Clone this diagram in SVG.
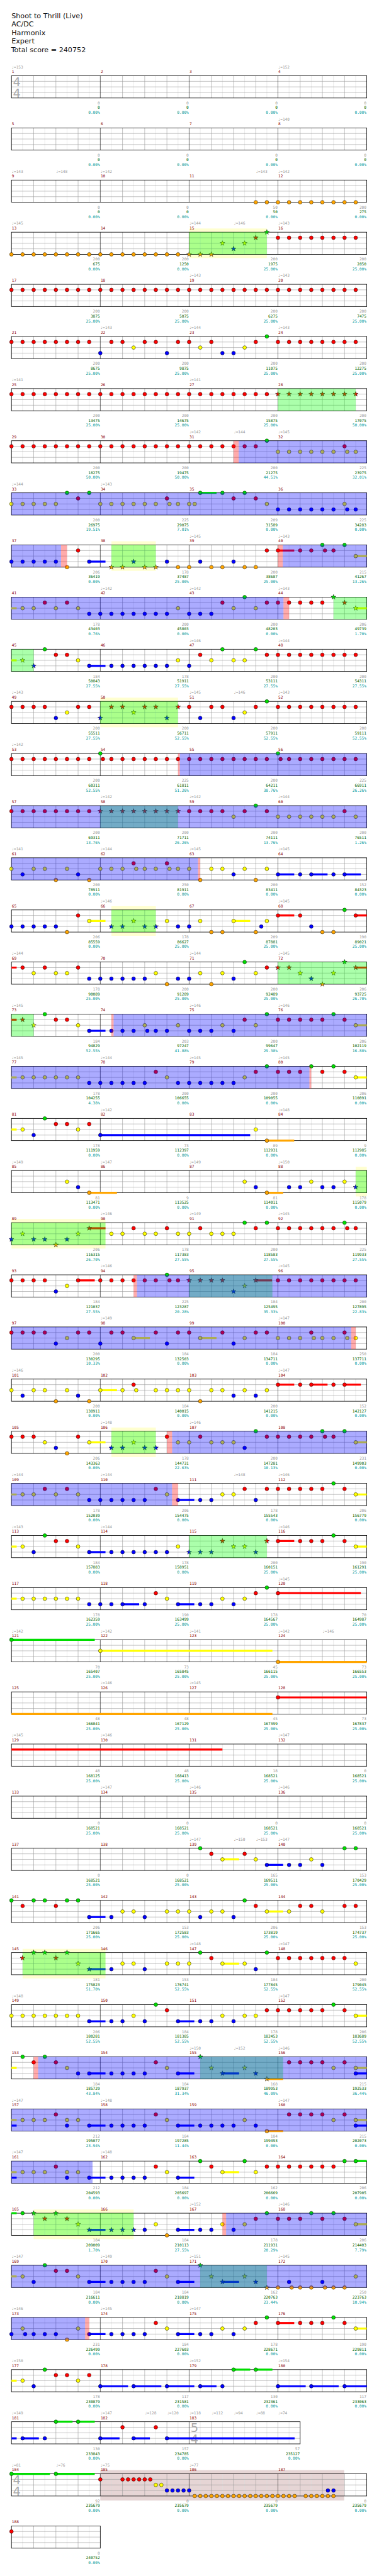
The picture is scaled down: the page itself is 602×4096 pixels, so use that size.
<svg xmlns="http://www.w3.org/2000/svg" width="602" height="4096" viewBox="0 0 602 4096">
<style>
.hb{stroke:#ddd;stroke-width:1;fill:none}
.bt{stroke:#999;stroke-width:1;fill:none}
.ms{stroke:#000;stroke-width:1;fill:none}
.bx{fill:none;stroke:#000;stroke-width:1.4}
text{font-family:"DejaVu Sans Mono","Liberation Mono",monospace;font-size:10.5px}
.ti{font-family:"DejaVu Sans","Liberation Sans",sans-serif;font-size:19px;fill:#111}
.mn{fill:#8b0000}
.tp{fill:#999}
.s1{fill:#999;text-anchor:end}
.s2{fill:#006400;text-anchor:end}
.s3{fill:#009a9a;text-anchor:end}
.ts{font-family:"DejaVu Sans","Liberation Sans",sans-serif;font-size:33px;fill:#aaa}
.lG,.lR,.lY,.lB,.lO{stroke-width:5.5;fill:none}
.lG{stroke:#00dd00}.lR{stroke:#f00}.lY{stroke:#ff0}.lB{stroke:#00f}.lO{stroke:#ffa500}
.og{fill:#0f0;fill-opacity:.33}
.ob{fill:#00f;fill-opacity:.33}
.op{fill:#f00;fill-opacity:.33}
.bk{fill:#ffffd0}
.br{fill:#e6d5d5}
</style>
<defs>
<circle id="c" r="5" stroke="#000" stroke-width=".8"/>
<polygon id="st" points="0,-7 1.65,-2.27 6.66,-2.16 2.66,0.87 4.11,5.66 0,2.8 -4.11,5.66 -2.66,0.87 -6.66,-2.16 -1.65,-2.27" stroke="#000" stroke-width=".8"/>
<use id="G" href="#c" fill="#00dd00"/>
<use id="R" href="#c" y="15" fill="#f00"/>
<use id="Y" href="#c" y="30" fill="#ff0"/>
<use id="B" href="#c" y="45" fill="#00f"/>
<use id="O" href="#c" y="60" fill="#ffa500"/>
<use id="sg" href="#st" fill="#00dd00"/>
<use id="sr" href="#st" y="15" fill="#f00"/>
<use id="sy" href="#st" y="30" fill="#ff0"/>
<use id="sb" href="#st" y="45" fill="#00f"/>
<use id="so" href="#st" y="60" fill="#ffa500"/>
<g id="grid">
<path class="hb" d="M30 0V60M90 0V60M150 0V60M210 0V60M270 0V60M330 0V60M390 0V60M450 0V60M510 0V60M570 0V60M630 0V60M690 0V60M750 0V60M810 0V60M870 0V60M930 0V60"/>
<path class="bt" d="M60 0V60M120 0V60M180 0V60M300 0V60M360 0V60M420 0V60M540 0V60M600 0V60M660 0V60M780 0V60M840 0V60M900 0V60M0 15H960M0 30H960M0 45H960"/>
<path class="ms" d="M240 0V60M480 0V60M720 0V60"/>
<rect class="bx" width="960" height="60"/>
</g>
<g id="grid3">
<path class="hb" d="M30 0V60M90 0V60M150 0V60M210 0V60M270 0V60M330 0V60M390 0V60M450 0V60M510 0V60M570 0V60M630 0V60M690 0V60M750 0V60"/>
<path class="bt" d="M60 0V60M120 0V60M180 0V60M300 0V60M360 0V60M420 0V60M540 0V60M600 0V60M660 0V60M720 0V60M0 15H780M0 30H780M0 45H780"/>
<path class="ms" d="M240 0V60M480 0V60"/>
<rect class="bx" width="780" height="60"/>
</g>
<g id="grid1">
<path class="hb" d="M30 0V60M90 0V60M150 0V60M210 0V60"/>
<path class="bt" d="M60 0V60M120 0V60M180 0V60M0 15H240M0 30H240M0 45H240"/>
<rect class="bx" width="240" height="60"/>
</g>
</defs>
<g transform="scale(0.58789)">
<g id="header">
<text class="ti" x="31" y="49">Shoot to Thrill (Live)</text>
<text class="ti" x="31" y="72">AC/DC</text>
<text class="ti" x="31" y="95">Harmonix</text>
<text class="ti" x="31" y="118">Expert</text>
<text class="ti" x="30" y="141">Total score = 240752</text>
</g>

<g id="row-1" transform="translate(31,205)">
<use href="#grid"/>
<text class="ts" x="4" y="28">4</text><text class="ts" x="4" y="58">4</text>
<text class="mn" y="-7"><tspan x="1">1</tspan><tspan x="241">2</tspan><tspan x="481">3</tspan><tspan x="721">4</tspan></text>
<text class="tp" y="-20"><tspan x="0">♩=153</tspan><tspan x="720">♩=152</tspan></text>
<text class="s1" y="77"><tspan x="239">0</tspan><tspan x="479">0</tspan><tspan x="719">0</tspan><tspan x="959">0</tspan></text>
<text class="s2" y="90"><tspan x="239">0</tspan><tspan x="479">0</tspan><tspan x="719">0</tspan><tspan x="959">0</tspan></text>
<text class="s3" y="103"><tspan x="239">0.00%</tspan><tspan x="479">0.00%</tspan><tspan x="719">0.00%</tspan><tspan x="959">0.00%</tspan></text>
</g>

<g id="row-2" transform="translate(31,346)">
<use href="#grid"/>
<text class="mn" y="-7"><tspan x="1">5</tspan><tspan x="241">6</tspan><tspan x="481">7</tspan><tspan x="721">8</tspan></text>
<text class="tp" y="-20"><tspan x="720">♩=140</tspan></text>
<text class="s1" y="77"><tspan x="239">0</tspan><tspan x="479">0</tspan><tspan x="719">0</tspan><tspan x="959">0</tspan></text>
<text class="s2" y="90"><tspan x="239">0</tspan><tspan x="479">0</tspan><tspan x="719">0</tspan><tspan x="959">0</tspan></text>
<text class="s3" y="103"><tspan x="239">0.00%</tspan><tspan x="479">0.00%</tspan><tspan x="719">0.00%</tspan><tspan x="959">0.00%</tspan></text>
</g>

<g id="row-3" transform="translate(31,487)">
<use href="#grid"/>
<text class="mn" y="-7"><tspan x="1">9</tspan><tspan x="241">10</tspan><tspan x="481">11</tspan><tspan x="721">12</tspan></text>
<text class="tp" y="-20"><tspan x="0">♩=143</tspan><tspan x="120">♩=148</tspan><tspan x="240">♩=142</tspan><tspan x="660">♩=143</tspan><tspan x="720">♩=142</tspan></text>
<text class="s1" y="77"><tspan x="239">0</tspan><tspan x="479">0</tspan><tspan x="719">50</tspan><tspan x="959">200</tspan></text>
<text class="s2" y="90"><tspan x="239">0</tspan><tspan x="479">0</tspan><tspan x="719">50</tspan><tspan x="959">275</tspan></text>
<text class="s3" y="103"><tspan x="239">0.00%</tspan><tspan x="479">0.00%</tspan><tspan x="719">0.00%</tspan><tspan x="959">0.00%</tspan></text>
<use href="#O" x="660"/><use href="#O" x="690"/><use href="#O" x="720"/><use href="#O" x="750"/><use href="#O" x="780"/><use href="#O" x="810"/><use href="#O" x="840"/><use href="#O" x="870"/><use href="#O" x="900"/><use href="#O" x="930"/>
</g>

<g id="row-4" transform="translate(31,628)">
<rect class="bk" x="480" y="-10" width="210" height="80"/>
<use href="#grid"/>
<text class="mn" y="-7"><tspan x="1">13</tspan><tspan x="241">14</tspan><tspan x="481">15</tspan><tspan x="721">16</tspan></text>
<text class="tp" y="-20"><tspan x="0">♩=145</tspan><tspan x="480">♩=144</tspan><tspan x="600">♩=146</tspan><tspan x="720">♩=143</tspan></text>
<text class="s1" y="77"><tspan x="239">200</tspan><tspan x="479">200</tspan><tspan x="719">200</tspan><tspan x="959">200</tspan></text>
<text class="s2" y="90"><tspan x="239">675</tspan><tspan x="479">1250</tspan><tspan x="719">1975</tspan><tspan x="959">2850</tspan></text>
<text class="s3" y="103"><tspan x="239">0.00%</tspan><tspan x="479">0.00%</tspan><tspan x="719">25.00%</tspan><tspan x="959">25.00%</tspan></text>
<use href="#O" x="0"/><use href="#O" x="30"/><use href="#O" x="60"/><use href="#O" x="90"/><use href="#O" x="120"/><use href="#O" x="150"/><use href="#O" x="180"/><use href="#O" x="210"/><use href="#O" x="240"/><use href="#O" x="270"/><use href="#O" x="300"/><use href="#O" x="330"/><use href="#O" x="360"/><use href="#O" x="390"/><use href="#O" x="420"/><use href="#O" x="450"/>
<use href="#so" x="480"/><use href="#so" x="510"/><use href="#so" x="540"/><use href="#sy" x="570"/><use href="#sb" x="600"/><use href="#sy" x="630"/><use href="#sr" x="660"/><use href="#sg" x="690"/>
<use href="#R" x="720"/><use href="#R" x="750"/><use href="#R" x="780"/><use href="#R" x="810"/><use href="#R" x="840"/><use href="#R" x="870"/><use href="#R" x="900"/><use href="#R" x="930"/>
<rect class="og" x="480" width="210" height="60"/>
</g>

<g id="row-5" transform="translate(31,769)">
<use href="#grid"/>
<text class="mn" y="-7"><tspan x="1">17</tspan><tspan x="241">18</tspan><tspan x="481">19</tspan><tspan x="721">20</tspan></text>
<text class="tp" y="-20"><tspan x="480">♩=143</tspan><tspan x="720">♩=143</tspan></text>
<text class="s1" y="77"><tspan x="239">200</tspan><tspan x="479">200</tspan><tspan x="719">200</tspan><tspan x="959">200</tspan></text>
<text class="s2" y="90"><tspan x="239">3875</tspan><tspan x="479">5075</tspan><tspan x="719">6275</tspan><tspan x="959">7475</tspan></text>
<text class="s3" y="103"><tspan x="239">25.00%</tspan><tspan x="479">25.00%</tspan><tspan x="719">25.00%</tspan><tspan x="959">25.00%</tspan></text>
<use href="#R" x="0"/><use href="#R" x="30"/><use href="#R" x="60"/><use href="#R" x="90"/><use href="#R" x="120"/><use href="#R" x="150"/><use href="#R" x="180"/><use href="#R" x="210"/><use href="#R" x="240"/><use href="#R" x="270"/><use href="#R" x="300"/><use href="#R" x="330"/><use href="#R" x="360"/><use href="#R" x="390"/><use href="#R" x="420"/><use href="#R" x="450"/><use href="#R" x="480"/><use href="#R" x="510"/><use href="#R" x="540"/><use href="#R" x="570"/><use href="#R" x="600"/><use href="#R" x="630"/><use href="#R" x="660"/><use href="#R" x="690"/><use href="#R" x="720"/><use href="#R" x="750"/><use href="#R" x="780"/><use href="#R" x="810"/><use href="#R" x="840"/><use href="#R" x="870"/><use href="#R" x="900"/><use href="#R" x="930"/>
</g>

<g id="row-6" transform="translate(31,910)">
<use href="#grid"/>
<text class="mn" y="-7"><tspan x="1">21</tspan><tspan x="241">22</tspan><tspan x="481">23</tspan><tspan x="721">24</tspan></text>
<text class="tp" y="-20"><tspan x="240">♩=143</tspan><tspan x="480">♩=144</tspan><tspan x="720">♩=143</tspan></text>
<text class="s1" y="77"><tspan x="239">200</tspan><tspan x="479">200</tspan><tspan x="719">200</tspan><tspan x="959">200</tspan></text>
<text class="s2" y="90"><tspan x="239">8675</tspan><tspan x="479">9875</tspan><tspan x="719">11075</tspan><tspan x="959">12275</tspan></text>
<text class="s3" y="103"><tspan x="239">25.00%</tspan><tspan x="479">25.00%</tspan><tspan x="719">25.00%</tspan><tspan x="959">25.00%</tspan></text>
<use href="#R" x="0"/><use href="#R" x="30"/><use href="#R" x="60"/><use href="#R" x="90"/><use href="#R" x="120"/><use href="#R" x="150"/><use href="#R" x="180"/><use href="#R" x="210"/><use href="#B" x="240"/><use href="#R" x="270"/><use href="#R" x="300"/><use href="#Y" x="330"/><use href="#R" x="360"/><use href="#R" x="390"/><use href="#B" x="420"/><use href="#R" x="450"/><use href="#R" x="480"/><use href="#Y" x="510"/><use href="#R" x="540"/><use href="#B" x="570"/><use href="#B" x="600"/><use href="#Y" x="630"/><use href="#R" x="660"/><use href="#G" x="690"/><use href="#R" x="720"/><use href="#R" x="750"/><use href="#R" x="780"/><use href="#R" x="810"/><use href="#R" x="840"/><use href="#R" x="870"/><use href="#R" x="900"/><use href="#R" x="930"/>
</g>

<g id="row-7" transform="translate(31,1051)">
<use href="#grid"/>
<text class="mn" y="-7"><tspan x="1">25</tspan><tspan x="241">26</tspan><tspan x="481">27</tspan><tspan x="721">28</tspan></text>
<text class="tp" y="-20"><tspan x="0">♩=141</tspan><tspan x="480">♩=141</tspan></text>
<text class="s1" y="77"><tspan x="239">200</tspan><tspan x="479">200</tspan><tspan x="719">200</tspan><tspan x="959">200</tspan></text>
<text class="s2" y="90"><tspan x="239">13475</tspan><tspan x="479">14675</tspan><tspan x="719">15875</tspan><tspan x="959">17075</tspan></text>
<text class="s3" y="103"><tspan x="239">25.00%</tspan><tspan x="479">25.00%</tspan><tspan x="719">25.00%</tspan><tspan x="959">50.00%</tspan></text>
<use href="#R" x="0"/><use href="#R" x="30"/><use href="#R" x="60"/><use href="#R" x="90"/><use href="#R" x="120"/><use href="#R" x="150"/><use href="#R" x="180"/><use href="#R" x="210"/><use href="#R" x="240"/><use href="#R" x="270"/><use href="#R" x="300"/><use href="#R" x="330"/><use href="#R" x="360"/><use href="#R" x="390"/><use href="#R" x="420"/><use href="#R" x="450"/><use href="#R" x="480"/><use href="#R" x="510"/><use href="#R" x="540"/><use href="#R" x="570"/><use href="#R" x="600"/><use href="#R" x="630"/><use href="#R" x="660"/><use href="#R" x="690"/>
<use href="#sr" x="720"/><use href="#sr" x="750"/><use href="#sr" x="780"/><use href="#sr" x="810"/><use href="#sr" x="840"/><use href="#sr" x="870"/><use href="#sr" x="900"/><use href="#sr" x="930"/>
<rect class="og" x="720" width="210" height="60"/>
</g>

<g id="row-8" transform="translate(31,1192)">
<use href="#grid"/>
<text class="mn" y="-7"><tspan x="1">29</tspan><tspan x="241">30</tspan><tspan x="481">31</tspan><tspan x="721">32</tspan></text>
<text class="tp" y="-20"><tspan x="480">♩=142</tspan><tspan x="600">♩=144</tspan><tspan x="720">♩=145</tspan></text>
<text class="s1" y="77"><tspan x="239">200</tspan><tspan x="479">200</tspan><tspan x="719">200</tspan><tspan x="959">225</tspan></text>
<text class="s2" y="90"><tspan x="239">18275</tspan><tspan x="479">19475</tspan><tspan x="719">21275</tspan><tspan x="959">23975</tspan></text>
<text class="s3" y="103"><tspan x="239">50.00%</tspan><tspan x="479">50.00%</tspan><tspan x="719">44.51%</tspan><tspan x="959">32.01%</tspan></text>
<use href="#R" x="0"/><use href="#R" x="30"/><use href="#R" x="60"/><use href="#R" x="90"/><use href="#R" x="120"/><use href="#R" x="150"/><use href="#R" x="180"/><use href="#R" x="210"/><use href="#R" x="240"/><use href="#R" x="270"/><use href="#R" x="300"/><use href="#R" x="330"/><use href="#R" x="360"/><use href="#R" x="390"/><use href="#R" x="420"/><use href="#R" x="450"/><use href="#R" x="480"/><use href="#R" x="510"/><use href="#R" x="540"/><use href="#R" x="570"/><use href="#R" x="600"/><use href="#R" x="630"/><use href="#R" x="660"/><use href="#G" x="690"/><use href="#Y" x="720"/><use href="#Y" x="750"/><use href="#Y" x="780"/><use href="#Y" x="810"/><use href="#Y" x="840"/><use href="#Y" x="870"/><use href="#R" x="900"/><use href="#Y" x="907"/><use href="#Y" x="930"/>
<rect class="op" x="600" width="14" height="60"/><rect class="ob" x="614" width="346" height="60"/>
</g>

<g id="row-9" transform="translate(31,1333)">
<use href="#grid"/>
<text class="mn" y="-7"><tspan x="1">33</tspan><tspan x="241">34</tspan><tspan x="481">35</tspan><tspan x="721">36</tspan></text>
<text class="tp" y="-20"><tspan x="0">♩=144</tspan><tspan x="240">♩=143</tspan></text>
<text class="s1" y="77"><tspan x="239">200</tspan><tspan x="479">225</tspan><tspan x="719">209</tspan><tspan x="959">225</tspan></text>
<text class="s2" y="90"><tspan x="239">26975</tspan><tspan x="479">29075</tspan><tspan x="719">31589</tspan><tspan x="959">34283</tspan></text>
<text class="s3" y="103"><tspan x="239">19.51%</tspan><tspan x="479">7.01%</tspan><tspan x="719">0.00%</tspan><tspan x="959">0.00%</tspan></text>
<path class="lG" d="M510 0H554"/>
<use href="#Y" x="0"/><use href="#Y" x="30"/><use href="#Y" x="60"/><use href="#Y" x="90"/><use href="#Y" x="120"/><use href="#G" x="150"/><use href="#R" x="180"/><use href="#G" x="210"/><use href="#Y" x="240"/><use href="#Y" x="270"/><use href="#Y" x="300"/><use href="#Y" x="330"/><use href="#Y" x="360"/><use href="#Y" x="390"/><use href="#R" x="420"/><use href="#Y" x="427"/><use href="#Y" x="450"/><use href="#Y" x="480"/><use href="#Y" x="495"/><use href="#G" x="510"/><use href="#G" x="570"/><use href="#R" x="600"/><use href="#G" x="630"/><use href="#R" x="660"/><use href="#Y" x="690"/><use href="#B" x="720"/><use href="#B" x="750"/><use href="#B" x="780"/><use href="#B" x="810"/><use href="#B" x="840"/><use href="#B" x="870"/><use href="#Y" x="900"/><use href="#B" x="907"/><use href="#B" x="930"/>
<rect class="ob" width="960" height="60"/>
</g>

<g id="row-10" transform="translate(31,1474)">
<rect class="bk" x="270" y="-10" width="120" height="80"/>
<use href="#grid"/>
<text class="mn" y="-7"><tspan x="1">37</tspan><tspan x="241">38</tspan><tspan x="481">39</tspan><tspan x="721">40</tspan></text>
<text class="tp" y="-20"><tspan x="480">♩=145</tspan><tspan x="720">♩=143</tspan></text>
<text class="s1" y="77"><tspan x="239">206</tspan><tspan x="479">178</tspan><tspan x="719">200</tspan><tspan x="959">215</tspan></text>
<text class="s2" y="90"><tspan x="239">36419</tspan><tspan x="479">37487</tspan><tspan x="719">38687</tspan><tspan x="959">41267</tspan></text>
<text class="s3" y="103"><tspan x="239">0.00%</tspan><tspan x="479">25.00%</tspan><tspan x="719">25.00%</tspan><tspan x="959">13.26%</tspan></text>
<path class="lB" d="M210 45H254"/><path class="lR" d="M720 15H764"/><path class="lY" d="M930 30H960"/>
<use href="#B" x="0"/><use href="#B" x="30"/><use href="#B" x="60"/><use href="#B" x="90"/><use href="#B" x="120"/><use href="#O" x="150"/><use href="#R" x="180"/><use href="#B" x="210"/><use href="#so" x="270"/><use href="#so" x="300"/><use href="#sb" x="330"/><use href="#so" x="360"/><use href="#so" x="390"/><use href="#B" x="420"/><use href="#O" x="450"/><use href="#O" x="480"/><use href="#B" x="510"/><use href="#O" x="540"/><use href="#O" x="570"/><use href="#B" x="600"/><use href="#O" x="630"/><use href="#O" x="660"/><use href="#R" x="690"/><use href="#R" x="720"/><use href="#R" x="780"/><use href="#R" x="810"/><use href="#G" x="840"/><use href="#R" x="847"/><use href="#R" x="870"/><use href="#G" x="900"/><use href="#Y" x="930"/>
<rect class="ob" width="134" height="60"/><rect class="op" x="134" width="16" height="60"/><rect class="og" x="270" width="120" height="60"/><rect class="op" x="720" width="13" height="60"/><rect class="ob" x="733" width="227" height="60"/>
</g>

<g id="row-11" transform="translate(31,1615)">
<use href="#grid"/>
<text class="mn" y="-7"><tspan x="1">41</tspan><tspan x="241">42</tspan><tspan x="481">43</tspan><tspan x="721">44</tspan></text>
<text class="tp" y="-20"><tspan x="240">♩=142</tspan><tspan x="480">♩=142</tspan><tspan x="720">♩=143</tspan></text>
<text class="s1" y="77"><tspan x="239">178</tspan><tspan x="479">200</tspan><tspan x="719">200</tspan><tspan x="959">206</tspan></text>
<text class="s2" y="90"><tspan x="239">43403</tspan><tspan x="479">45803</tspan><tspan x="719">48203</tspan><tspan x="959">49739</tspan></text>
<text class="s3" y="103"><tspan x="239">0.76%</tspan><tspan x="479">0.00%</tspan><tspan x="719">0.00%</tspan><tspan x="959">1.70%</tspan></text>
<path class="lY" d="M0 30H14M930 30H960"/>
<use href="#Y" x="30"/><use href="#Y" x="60"/><use href="#R" x="90"/><use href="#Y" x="120"/><use href="#R" x="150"/><use href="#Y" x="180"/><use href="#B" x="210"/><use href="#B" x="240"/><use href="#B" x="270"/><use href="#B" x="300"/><use href="#B" x="330"/><use href="#B" x="360"/><use href="#B" x="390"/><use href="#B" x="420"/><use href="#Y" x="450"/><use href="#B" x="480"/><use href="#B" x="510"/><use href="#B" x="540"/><use href="#R" x="570"/><use href="#Y" x="600"/><use href="#G" x="630"/><use href="#Y" x="660"/><use href="#R" x="690"/><use href="#R" x="720"/><use href="#R" x="750"/><use href="#R" x="780"/><use href="#R" x="810"/><use href="#R" x="840"/><use href="#sg" x="870"/><use href="#sr" x="900"/><use href="#sy" x="930"/>
<rect class="ob" width="735" height="60"/><rect class="op" x="735" width="15" height="60"/><rect class="og" x="870" width="90" height="60"/>
</g>

<g id="row-12" transform="translate(31,1756)">
<use href="#grid"/>
<text class="mn" y="-7"><tspan x="1">45</tspan><tspan x="241">46</tspan><tspan x="481">47</tspan><tspan x="721">48</tspan></text>
<text class="tp" y="-20"><tspan x="480">♩=146</tspan><tspan x="720">♩=144</tspan></text>
<text class="s1" y="77"><tspan x="239">184</tspan><tspan x="479">178</tspan><tspan x="719">200</tspan><tspan x="959">200</tspan></text>
<text class="s2" y="90"><tspan x="239">50843</tspan><tspan x="479">51911</tspan><tspan x="719">53111</tspan><tspan x="959">54311</tspan></text>
<text class="s3" y="103"><tspan x="239">27.55%</tspan><tspan x="479">27.55%</tspan><tspan x="719">27.55%</tspan><tspan x="959">27.55%</tspan></text>
<path class="lY" d="M0 30H14"/><path class="lB" d="M210 45H254"/>
<use href="#sy" x="30"/><use href="#sb" x="60"/><use href="#G" x="90"/><use href="#R" x="120"/><use href="#R" x="150"/><use href="#Y" x="180"/><use href="#B" x="210"/><use href="#B" x="270"/><use href="#B" x="300"/><use href="#B" x="330"/><use href="#B" x="360"/><use href="#B" x="390"/><use href="#B" x="420"/><use href="#Y" x="450"/><use href="#B" x="480"/><use href="#R" x="510"/><use href="#Y" x="540"/><use href="#G" x="570"/><use href="#Y" x="600"/><use href="#Y" x="630"/><use href="#G" x="660"/><use href="#R" x="690"/><use href="#R" x="720"/><use href="#R" x="750"/><use href="#R" x="780"/><use href="#R" x="810"/><use href="#R" x="840"/><use href="#R" x="870"/><use href="#R" x="900"/><use href="#R" x="930"/>
<rect class="og" width="60" height="60"/>
</g>

<g id="row-13" transform="translate(31,1897)">
<rect class="bk" x="240" y="-10" width="210" height="80"/>
<use href="#grid"/>
<text class="mn" y="-7"><tspan x="1">49</tspan><tspan x="241">50</tspan><tspan x="481">51</tspan><tspan x="721">52</tspan></text>
<text class="tp" y="-20"><tspan x="0">♩=143</tspan><tspan x="480">♩=145</tspan><tspan x="600">♩=146</tspan><tspan x="720">♩=143</tspan></text>
<text class="s1" y="77"><tspan x="239">200</tspan><tspan x="479">200</tspan><tspan x="719">200</tspan><tspan x="959">200</tspan></text>
<text class="s2" y="90"><tspan x="239">55511</tspan><tspan x="479">56711</tspan><tspan x="719">57911</tspan><tspan x="959">59111</tspan></text>
<text class="s3" y="103"><tspan x="239">27.55%</tspan><tspan x="479">52.55%</tspan><tspan x="719">52.55%</tspan><tspan x="959">52.55%</tspan></text>
<use href="#R" x="0"/><use href="#R" x="30"/><use href="#R" x="60"/><use href="#R" x="90"/><use href="#B" x="120"/><use href="#Y" x="150"/><use href="#R" x="180"/><use href="#R" x="210"/><use href="#sb" x="240"/><use href="#sr" x="270"/><use href="#sr" x="300"/><use href="#sy" x="330"/><use href="#sr" x="360"/><use href="#sr" x="390"/><use href="#sb" x="420"/><use href="#sr" x="450"/><use href="#R" x="480"/><use href="#B" x="510"/><use href="#R" x="540"/><use href="#R" x="570"/><use href="#B" x="600"/><use href="#Y" x="630"/><use href="#R" x="660"/><use href="#G" x="690"/><use href="#R" x="720"/><use href="#R" x="750"/><use href="#R" x="780"/><use href="#R" x="810"/><use href="#R" x="840"/><use href="#R" x="870"/><use href="#R" x="900"/><use href="#R" x="930"/>
<rect class="og" x="240" width="210" height="60"/>
</g>

<g id="row-14" transform="translate(31,2038)">
<use href="#grid"/>
<text class="mn" y="-7"><tspan x="1">53</tspan><tspan x="241">54</tspan><tspan x="481">55</tspan><tspan x="721">56</tspan></text>
<text class="tp" y="-20"><tspan x="0">♩=142</tspan></text>
<text class="s1" y="77"><tspan x="239">200</tspan><tspan x="479">225</tspan><tspan x="719">200</tspan><tspan x="959">225</tspan></text>
<text class="s2" y="90"><tspan x="239">60311</tspan><tspan x="479">61811</tspan><tspan x="719">64211</tspan><tspan x="959">66911</tspan></text>
<text class="s3" y="103"><tspan x="239">52.55%</tspan><tspan x="479">51.26%</tspan><tspan x="719">38.76%</tspan><tspan x="959">26.26%</tspan></text>
<use href="#R" x="0"/><use href="#R" x="30"/><use href="#R" x="60"/><use href="#R" x="90"/><use href="#R" x="120"/><use href="#R" x="150"/><use href="#R" x="180"/><use href="#R" x="210"/><use href="#G" x="240"/><use href="#R" x="247"/><use href="#R" x="270"/><use href="#R" x="300"/><use href="#R" x="330"/><use href="#R" x="360"/><use href="#R" x="390"/><use href="#R" x="420"/><use href="#R" x="450"/><use href="#R" x="480"/><use href="#R" x="510"/><use href="#R" x="540"/><use href="#R" x="570"/><use href="#R" x="600"/><use href="#R" x="630"/><use href="#R" x="660"/><use href="#R" x="690"/><use href="#G" x="720"/><use href="#R" x="727"/><use href="#R" x="750"/><use href="#R" x="780"/><use href="#R" x="810"/><use href="#R" x="840"/><use href="#R" x="870"/><use href="#R" x="900"/><use href="#R" x="930"/>
<rect class="op" x="450" width="5" height="60"/><rect class="ob" x="455" width="505" height="60"/>
</g>

<g id="row-15" transform="translate(31,2179)">
<use href="#grid"/>
<text class="mn" y="-7"><tspan x="1">57</tspan><tspan x="241">58</tspan><tspan x="481">59</tspan><tspan x="721">60</tspan></text>
<text class="tp" y="-20"><tspan x="240">♩=142</tspan><tspan x="480">♩=142</tspan><tspan x="720">♩=144</tspan></text>
<text class="s1" y="77"><tspan x="239">200</tspan><tspan x="479">200</tspan><tspan x="719">200</tspan><tspan x="959">200</tspan></text>
<text class="s2" y="90"><tspan x="239">69311</tspan><tspan x="479">71711</tspan><tspan x="719">74111</tspan><tspan x="959">76511</tspan></text>
<text class="s3" y="103"><tspan x="239">13.76%</tspan><tspan x="479">26.26%</tspan><tspan x="719">13.76%</tspan><tspan x="959">1.26%</tspan></text>
<use href="#R" x="0"/><use href="#R" x="30"/><use href="#R" x="60"/><use href="#R" x="90"/><use href="#R" x="120"/><use href="#R" x="150"/><use href="#R" x="180"/><use href="#R" x="210"/><use href="#sr" x="240"/><use href="#sr" x="270"/><use href="#sr" x="300"/><use href="#sr" x="330"/><use href="#sr" x="360"/><use href="#sr" x="390"/><use href="#sr" x="420"/><use href="#sr" x="450"/><use href="#R" x="480"/><use href="#R" x="510"/><use href="#R" x="540"/><use href="#R" x="570"/><use href="#Y" x="600"/><use href="#R" x="630"/><use href="#G" x="660"/><use href="#R" x="690"/><use href="#Y" x="720"/><use href="#Y" x="750"/><use href="#Y" x="780"/><use href="#Y" x="810"/><use href="#Y" x="840"/><use href="#Y" x="870"/><use href="#R" x="900"/><use href="#Y" x="930"/>
<rect class="og" x="240" width="210" height="60"/><rect class="ob" width="960" height="60"/>
</g>

<g id="row-16" transform="translate(31,2320)">
<use href="#grid"/>
<text class="mn" y="-7"><tspan x="1">61</tspan><tspan x="241">62</tspan><tspan x="481">63</tspan><tspan x="721">64</tspan></text>
<text class="tp" y="-20"><tspan x="0">♩=141</tspan><tspan x="240">♩=144</tspan><tspan x="480">♩=145</tspan><tspan x="720">♩=145</tspan></text>
<text class="s1" y="77"><tspan x="239">200</tspan><tspan x="479">250</tspan><tspan x="719">200</tspan><tspan x="959">152</tspan></text>
<text class="s2" y="90"><tspan x="239">78911</tspan><tspan x="479">81911</tspan><tspan x="719">83411</tspan><tspan x="959">84323</tspan></text>
<text class="s3" y="103"><tspan x="239">0.00%</tspan><tspan x="479">0.00%</tspan><tspan x="719">0.00%</tspan><tspan x="959">0.00%</tspan></text>
<path class="lB" d="M720 45H764M810 45H854M900 45H944"/>
<use href="#Y" x="0"/><use href="#B" x="30"/><use href="#Y" x="60"/><use href="#Y" x="90"/><use href="#O" x="120"/><use href="#Y" x="150"/><use href="#B" x="180"/><use href="#O" x="210"/><use href="#Y" x="240"/><use href="#Y" x="270"/><use href="#Y" x="300"/><use href="#R" x="330"/><use href="#Y" x="337"/><use href="#Y" x="360"/><use href="#Y" x="390"/><use href="#R" x="420"/><use href="#Y" x="427"/><use href="#Y" x="450"/><use href="#Y" x="480"/><use href="#O" x="510"/><use href="#Y" x="540"/><use href="#Y" x="570"/><use href="#B" x="600"/><use href="#Y" x="630"/><use href="#O" x="660"/><use href="#Y" x="690"/><use href="#B" x="720"/><use href="#B" x="780"/><use href="#B" x="810"/><use href="#B" x="870"/><use href="#B" x="900"/>
<rect class="ob" width="504" height="60"/><rect class="op" x="504" width="6" height="60"/>
</g>

<g id="row-17" transform="translate(31,2461)">
<rect class="bk" x="270" y="-10" width="120" height="80"/>
<use href="#grid"/>
<text class="mn" y="-7"><tspan x="1">65</tspan><tspan x="241">66</tspan><tspan x="481">67</tspan><tspan x="721">68</tspan></text>
<text class="tp" y="-20"><tspan x="240">♩=146</tspan><tspan x="720">♩=145</tspan></text>
<text class="s1" y="77"><tspan x="239">206</tspan><tspan x="479">178</tspan><tspan x="719">209</tspan><tspan x="959">190</tspan></text>
<text class="s2" y="90"><tspan x="239">85559</tspan><tspan x="479">86627</tspan><tspan x="719">87881</tspan><tspan x="959">89021</tspan></text>
<text class="s3" y="103"><tspan x="239">0.00%</tspan><tspan x="479">25.00%</tspan><tspan x="719">25.00%</tspan><tspan x="959">25.00%</tspan></text>
<path class="lY" d="M210 30H254M600 30H645"/><path class="lR" d="M720 15H764M930 15H960"/>
<use href="#B" x="0"/><use href="#B" x="30"/><use href="#B" x="60"/><use href="#B" x="90"/><use href="#B" x="120"/><use href="#O" x="150"/><use href="#R" x="180"/><use href="#Y" x="210"/><use href="#sb" x="270"/><use href="#sb" x="300"/><use href="#sy" x="330"/><use href="#sb" x="360"/><use href="#sb" x="390"/><use href="#Y" x="420"/><use href="#B" x="450"/><use href="#B" x="480"/><use href="#Y" x="510"/><use href="#O" x="540"/><use href="#O" x="570"/><use href="#Y" x="600"/><use href="#O" x="660"/><use href="#B" x="675"/><use href="#Y" x="690"/><use href="#R" x="720"/><use href="#R" x="780"/><use href="#B" x="810"/><use href="#O" x="840"/><use href="#O" x="870"/><use href="#G" x="900"/><use href="#R" x="930"/>
<rect class="og" x="270" width="120" height="60"/>
</g>

<g id="row-18" transform="translate(31,2602)">
<use href="#grid"/>
<text class="mn" y="-7"><tspan x="1">69</tspan><tspan x="241">70</tspan><tspan x="481">71</tspan><tspan x="721">72</tspan></text>
<text class="tp" y="-20"><tspan x="0">♩=144</tspan><tspan x="480">♩=144</tspan><tspan x="720">♩=145</tspan></text>
<text class="s1" y="77"><tspan x="239">178</tspan><tspan x="479">200</tspan><tspan x="719">200</tspan><tspan x="959">206</tspan></text>
<text class="s2" y="90"><tspan x="239">90089</tspan><tspan x="479">91289</tspan><tspan x="719">92489</tspan><tspan x="959">93725</tspan></text>
<text class="s3" y="103"><tspan x="239">25.00%</tspan><tspan x="479">25.00%</tspan><tspan x="719">25.00%</tspan><tspan x="959">26.70%</tspan></text>
<path class="lR" d="M0 15H14M930 15H960"/>
<use href="#R" x="30"/><use href="#Y" x="60"/><use href="#R" x="90"/><use href="#Y" x="120"/><use href="#Y" x="150"/><use href="#R" x="180"/><use href="#B" x="210"/><use href="#B" x="240"/><use href="#B" x="270"/><use href="#B" x="300"/><use href="#B" x="330"/><use href="#B" x="360"/><use href="#Y" x="390"/><use href="#O" x="420"/><use href="#B" x="450"/><use href="#B" x="480"/><use href="#Y" x="510"/><use href="#O" x="540"/><use href="#Y" x="570"/><use href="#B" x="600"/><use href="#G" x="630"/><use href="#Y" x="660"/><use href="#R" x="690"/><use href="#sr" x="720"/><use href="#sr" x="750"/><use href="#sy" x="780"/><use href="#sb" x="810"/><use href="#so" x="840"/><use href="#sy" x="870"/><use href="#sg" x="900"/><use href="#sr" x="930"/>
<rect class="og" x="720" width="240" height="60"/>
</g>

<g id="row-19" transform="translate(31,2743)">
<use href="#grid"/>
<text class="mn" y="-7"><tspan x="1">73</tspan><tspan x="241">74</tspan><tspan x="481">75</tspan><tspan x="721">76</tspan></text>
<text class="tp" y="-20"><tspan x="0">♩=145</tspan><tspan x="480">♩=146</tspan><tspan x="720">♩=146</tspan></text>
<text class="s1" y="77"><tspan x="239">184</tspan><tspan x="479">203</tspan><tspan x="719">200</tspan><tspan x="959">206</tspan></text>
<text class="s2" y="90"><tspan x="239">94829</tspan><tspan x="479">97247</tspan><tspan x="719">99647</tspan><tspan x="959">102119</tspan></text>
<text class="s3" y="103"><tspan x="239">52.55%</tspan><tspan x="479">41.88%</tspan><tspan x="719">29.38%</tspan><tspan x="959">16.88%</tspan></text>
<path class="lR" d="M0 15H14"/><path class="lB" d="M210 45H254"/><path class="lY" d="M930 30H960"/>
<use href="#sr" x="30"/><use href="#sy" x="60"/><use href="#G" x="90"/><use href="#R" x="120"/><use href="#R" x="150"/><use href="#Y" x="180"/><use href="#B" x="210"/><use href="#B" x="270"/><use href="#B" x="300"/><use href="#B" x="330"/><use href="#Y" x="360"/><use href="#B" x="367"/><use href="#B" x="390"/><use href="#B" x="420"/><use href="#Y" x="450"/><use href="#B" x="480"/><use href="#B" x="510"/><use href="#B" x="540"/><use href="#Y" x="570"/><use href="#B" x="600"/><use href="#R" x="630"/><use href="#Y" x="660"/><use href="#G" x="690"/><use href="#R" x="720"/><use href="#R" x="750"/><use href="#R" x="780"/><use href="#R" x="810"/><use href="#R" x="840"/><use href="#G" x="870"/><use href="#R" x="900"/><use href="#Y" x="930"/>
<rect class="og" width="60" height="60"/><rect class="op" x="270" width="6" height="60"/><rect class="ob" x="276" width="684" height="60"/>
</g>

<g id="row-20" transform="translate(31,2884)">
<use href="#grid"/>
<text class="mn" y="-7"><tspan x="1">77</tspan><tspan x="241">78</tspan><tspan x="481">79</tspan><tspan x="721">80</tspan></text>
<text class="tp" y="-20"><tspan x="0">♩=145</tspan><tspan x="240">♩=144</tspan><tspan x="480">♩=145</tspan><tspan x="720">♩=145</tspan></text>
<text class="s1" y="77"><tspan x="239">178</tspan><tspan x="479">200</tspan><tspan x="719">200</tspan><tspan x="959">206</tspan></text>
<text class="s2" y="90"><tspan x="239">104255</tspan><tspan x="479">106655</tspan><tspan x="719">109055</tspan><tspan x="959">110891</tspan></text>
<text class="s3" y="103"><tspan x="239">4.38%</tspan><tspan x="479">0.00%</tspan><tspan x="719">0.00%</tspan><tspan x="959">0.00%</tspan></text>
<path class="lY" d="M0 30H14M930 30H960"/>
<use href="#Y" x="30"/><use href="#Y" x="60"/><use href="#Y" x="90"/><use href="#Y" x="120"/><use href="#Y" x="150"/><use href="#Y" x="180"/><use href="#B" x="210"/><use href="#B" x="240"/><use href="#B" x="270"/><use href="#B" x="300"/><use href="#B" x="330"/><use href="#B" x="360"/><use href="#R" x="390"/><use href="#Y" x="420"/><use href="#B" x="450"/><use href="#B" x="480"/><use href="#B" x="510"/><use href="#B" x="540"/><use href="#B" x="570"/><use href="#B" x="600"/><use href="#Y" x="630"/><use href="#R" x="660"/><use href="#G" x="690"/><use href="#R" x="720"/><use href="#R" x="750"/><use href="#R" x="780"/><use href="#G" x="810"/><use href="#R" x="840"/><use href="#G" x="870"/><use href="#R" x="900"/><use href="#Y" x="930"/>
<rect class="ob" width="805" height="60"/><rect class="op" x="805" width="5" height="60"/>
</g>

<g id="row-21" transform="translate(31,3025)">
<use href="#grid"/>
<text class="mn" y="-7"><tspan x="1">81</tspan><tspan x="241">82</tspan><tspan x="481">83</tspan><tspan x="721">84</tspan></text>
<text class="tp" y="-20"><tspan x="240">♩=142</tspan><tspan x="720">♩=148</tspan></text>
<text class="s1" y="77"><tspan x="239">178</tspan><tspan x="479">73</tspan><tspan x="719">89</tspan><tspan x="959">9</tspan></text>
<text class="s2" y="90"><tspan x="239">111959</tspan><tspan x="479">112397</tspan><tspan x="719">112931</tspan><tspan x="959">112985</tspan></text>
<text class="s3" y="103"><tspan x="239">0.00%</tspan><tspan x="479">0.00%</tspan><tspan x="719">0.00%</tspan><tspan x="959">0.00%</tspan></text>
<path class="lY" d="M0 30H14"/><path class="lB" d="M240 45H645"/><path class="lO" d="M690 60H764"/>
<use href="#Y" x="30"/><use href="#B" x="60"/><use href="#G" x="90"/><use href="#R" x="120"/><use href="#R" x="150"/><use href="#Y" x="180"/><use href="#R" x="210"/><use href="#B" x="240"/><use href="#Y" x="660"/><use href="#O" x="690"/>
</g>

<g id="row-22" transform="translate(31,3166)">
<rect class="bk" x="930" y="-10" width="30" height="80"/>
<use href="#grid"/>
<text class="mn" y="-7"><tspan x="1">85</tspan><tspan x="241">86</tspan><tspan x="481">87</tspan><tspan x="721">88</tspan></text>
<text class="tp" y="-20"><tspan x="0">♩=149</tspan><tspan x="240">♩=147</tspan><tspan x="480">♩=149</tspan><tspan x="720">♩=150</tspan></text>
<text class="s1" y="77"><tspan x="239">81</tspan><tspan x="479">9</tspan><tspan x="719">81</tspan><tspan x="959">178</tspan></text>
<text class="s2" y="90"><tspan x="239">113471</tspan><tspan x="479">113525</tspan><tspan x="719">114011</tspan><tspan x="959">115079</tspan></text>
<text class="s3" y="103"><tspan x="239">0.00%</tspan><tspan x="479">0.00%</tspan><tspan x="719">0.00%</tspan><tspan x="959">0.00%</tspan></text>
<path class="lO" d="M210 60H285M690 60H734"/>
<use href="#Y" x="150"/><use href="#B" x="180"/><use href="#O" x="210"/><use href="#Y" x="630"/><use href="#B" x="660"/><use href="#O" x="690"/><use href="#B" x="750"/><use href="#B" x="780"/><use href="#Y" x="810"/><use href="#B" x="840"/><use href="#B" x="870"/><use href="#Y" x="900"/><use href="#sb" x="930"/>
<rect class="og" x="930" width="30" height="60"/>
</g>

<g id="row-23" transform="translate(31,3307)">
<rect class="bk" y="-10" width="254" height="80"/>
<use href="#grid"/>
<text class="mn" y="-7"><tspan x="1">89</tspan><tspan x="241">90</tspan><tspan x="481">91</tspan><tspan x="721">92</tspan></text>
<text class="tp" y="-20"><tspan x="240">♩=146</tspan><tspan x="480">♩=149</tspan><tspan x="720">♩=145</tspan></text>
<text class="s1" y="77"><tspan x="239">206</tspan><tspan x="479">178</tspan><tspan x="719">200</tspan><tspan x="959">225</tspan></text>
<text class="s2" y="90"><tspan x="239">116315</tspan><tspan x="479">117383</tspan><tspan x="719">118583</tspan><tspan x="959">119933</tspan></text>
<text class="s3" y="103"><tspan x="239">26.70%</tspan><tspan x="479">27.55%</tspan><tspan x="719">27.55%</tspan><tspan x="959">27.55%</tspan></text>
<path class="lR" d="M210 15H254"/>
<use href="#sb" x="0"/><use href="#sy" x="30"/><use href="#sb" x="60"/><use href="#sb" x="90"/><use href="#so" x="120"/><use href="#sb" x="150"/><use href="#sy" x="180"/><use href="#sr" x="210"/><use href="#Y" x="270"/><use href="#Y" x="300"/><use href="#R" x="330"/><use href="#Y" x="360"/><use href="#Y" x="390"/><use href="#R" x="420"/><use href="#Y" x="450"/><use href="#Y" x="480"/><use href="#R" x="510"/><use href="#Y" x="540"/><use href="#Y" x="570"/><use href="#Y" x="600"/><use href="#G" x="630"/><use href="#R" x="660"/><use href="#G" x="690"/><use href="#R" x="720"/><use href="#R" x="750"/><use href="#R" x="780"/><use href="#R" x="810"/><use href="#R" x="840"/><use href="#R" x="870"/><use href="#G" x="900"/><use href="#R" x="907"/><use href="#R" x="930"/>
<rect class="og" width="254" height="60"/>
</g>

<g id="row-24" transform="translate(31,3448)">
<use href="#grid"/>
<text class="mn" y="-7"><tspan x="1">93</tspan><tspan x="241">94</tspan><tspan x="481">95</tspan><tspan x="721">96</tspan></text>
<text class="tp" y="-20"><tspan x="240">♩=146</tspan><tspan x="720">♩=145</tspan></text>
<text class="s1" y="77"><tspan x="239">184</tspan><tspan x="479">225</tspan><tspan x="719">184</tspan><tspan x="959">200</tspan></text>
<text class="s2" y="90"><tspan x="239">121037</tspan><tspan x="479">123287</tspan><tspan x="719">125495</tspan><tspan x="959">127895</tspan></text>
<text class="s3" y="103"><tspan x="239">27.55%</tspan><tspan x="479">20.28%</tspan><tspan x="719">35.33%</tspan><tspan x="959">22.83%</tspan></text>
<path class="lR" d="M180 15H225M660 15H704"/>
<use href="#R" x="0"/><use href="#R" x="30"/><use href="#R" x="60"/><use href="#R" x="90"/><use href="#B" x="120"/><use href="#Y" x="150"/><use href="#R" x="180"/><use href="#R" x="240"/><use href="#R" x="270"/><use href="#R" x="300"/><use href="#R" x="330"/><use href="#R" x="360"/><use href="#R" x="390"/><use href="#G" x="420"/><use href="#R" x="427"/><use href="#R" x="450"/><use href="#sr" x="480"/><use href="#sr" x="510"/><use href="#sr" x="540"/><use href="#sr" x="570"/><use href="#sb" x="600"/><use href="#sy" x="630"/><use href="#sr" x="660"/><use href="#R" x="720"/><use href="#R" x="750"/><use href="#R" x="780"/><use href="#R" x="810"/><use href="#R" x="840"/><use href="#R" x="870"/><use href="#R" x="900"/><use href="#R" x="930"/>
<rect class="og" x="480" width="225" height="60"/><rect class="op" x="330" width="9" height="60"/><rect class="ob" x="339" width="621" height="60"/>
</g>

<g id="row-25" transform="translate(31,3589)">
<use href="#grid"/>
<text class="mn" y="-7"><tspan x="1">97</tspan><tspan x="241">98</tspan><tspan x="481">99</tspan><tspan x="721">100</tspan></text>
<text class="tp" y="-20"><tspan x="240">♩=149</tspan><tspan x="720">♩=147</tspan></text>
<text class="s1" y="77"><tspan x="239">200</tspan><tspan x="479">184</tspan><tspan x="719">184</tspan><tspan x="959">250</tspan></text>
<text class="s2" y="90"><tspan x="239">130295</tspan><tspan x="479">132503</tspan><tspan x="719">134711</tspan><tspan x="959">137711</tspan></text>
<text class="s3" y="103"><tspan x="239">10.33%</tspan><tspan x="479">0.00%</tspan><tspan x="719">0.00%</tspan><tspan x="959">0.00%</tspan></text>
<path class="lY" d="M330 30H374M510 30H554"/>
<use href="#R" x="0"/><use href="#R" x="30"/><use href="#R" x="60"/><use href="#R" x="90"/><use href="#B" x="120"/><use href="#Y" x="150"/><use href="#R" x="180"/><use href="#R" x="210"/><use href="#B" x="240"/><use href="#R" x="270"/><use href="#R" x="300"/><use href="#Y" x="330"/><use href="#R" x="390"/><use href="#B" x="420"/><use href="#R" x="450"/><use href="#R" x="480"/><use href="#Y" x="510"/><use href="#R" x="570"/><use href="#B" x="600"/><use href="#Y" x="630"/><use href="#R" x="660"/><use href="#R" x="690"/><use href="#Y" x="720"/><use href="#Y" x="750"/><use href="#Y" x="780"/><use href="#R" x="810"/><use href="#Y" x="817"/><use href="#Y" x="840"/><use href="#Y" x="870"/><use href="#R" x="900"/><use href="#Y" x="907"/><use href="#Y" x="930"/>
<rect class="ob" width="918" height="60"/><rect class="op" x="918" width="12" height="60"/>
</g>

<g id="row-26" transform="translate(31,3730)">
<use href="#grid"/>
<text class="mn" y="-7"><tspan x="1">101</tspan><tspan x="241">102</tspan><tspan x="481">103</tspan><tspan x="721">104</tspan></text>
<text class="tp" y="-20"><tspan x="0">♩=146</tspan><tspan x="720">♩=147</tspan></text>
<text class="s1" y="77"><tspan x="239">200</tspan><tspan x="479">184</tspan><tspan x="719">200</tspan><tspan x="959">152</tspan></text>
<text class="s2" y="90"><tspan x="239">138911</tspan><tspan x="479">140015</tspan><tspan x="719">141215</tspan><tspan x="959">142127</tspan></text>
<text class="s3" y="103"><tspan x="239">0.00%</tspan><tspan x="479">0.00%</tspan><tspan x="719">0.00%</tspan><tspan x="959">0.00%</tspan></text>
<path class="lY" d="M240 30H285"/><path class="lR" d="M720 15H764M810 15H854M900 15H944"/>
<use href="#Y" x="0"/><use href="#B" x="30"/><use href="#Y" x="60"/><use href="#Y" x="90"/><use href="#O" x="120"/><use href="#Y" x="150"/><use href="#B" x="180"/><use href="#O" x="210"/><use href="#Y" x="240"/><use href="#Y" x="300"/><use href="#R" x="330"/><use href="#Y" x="337"/><use href="#Y" x="390"/><use href="#Y" x="420"/><use href="#Y" x="450"/><use href="#Y" x="480"/><use href="#O" x="510"/><use href="#Y" x="540"/><use href="#Y" x="570"/><use href="#B" x="600"/><use href="#Y" x="630"/><use href="#B" x="660"/><use href="#Y" x="690"/><use href="#R" x="720"/><use href="#R" x="780"/><use href="#R" x="810"/><use href="#R" x="870"/><use href="#R" x="900"/>
</g>

<g id="row-27" transform="translate(31,3871)">
<rect class="bk" x="270" y="-10" width="120" height="80"/>
<use href="#grid"/>
<text class="mn" y="-7"><tspan x="1">105</tspan><tspan x="241">106</tspan><tspan x="481">107</tspan><tspan x="721">108</tspan></text>
<text class="tp" y="-20"><tspan x="240">♩=148</tspan><tspan x="480">♩=146</tspan></text>
<text class="s1" y="77"><tspan x="239">206</tspan><tspan x="479">178</tspan><tspan x="719">200</tspan><tspan x="959">231</tspan></text>
<text class="s2" y="90"><tspan x="239">143363</tspan><tspan x="479">144731</tspan><tspan x="719">147281</tspan><tspan x="959">149903</tspan></text>
<text class="s3" y="103"><tspan x="239">0.00%</tspan><tspan x="479">22.63%</tspan><tspan x="719">10.13%</tspan><tspan x="959">0.00%</tspan></text>
<path class="lY" d="M210 30H254M930 30H960"/>
<use href="#R" x="0"/><use href="#R" x="30"/><use href="#R" x="60"/><use href="#Y" x="90"/><use href="#B" x="120"/><use href="#O" x="150"/><use href="#R" x="180"/><use href="#Y" x="210"/><use href="#sb" x="270"/><use href="#sb" x="300"/><use href="#sy" x="330"/><use href="#sb" x="360"/><use href="#sb" x="390"/><use href="#R" x="420"/><use href="#Y" x="450"/><use href="#Y" x="480"/><use href="#R" x="510"/><use href="#Y" x="540"/><use href="#Y" x="570"/><use href="#Y" x="600"/><use href="#B" x="630"/><use href="#G" x="660"/><use href="#R" x="690"/><use href="#R" x="720"/><use href="#R" x="750"/><use href="#R" x="780"/><use href="#R" x="810"/><use href="#G" x="840"/><use href="#R" x="847"/><use href="#R" x="870"/><use href="#G" x="900"/><use href="#Y" x="930"/>
<rect class="og" x="270" width="120" height="60"/><rect class="op" x="420" width="14" height="60"/><rect class="ob" x="434" width="526" height="60"/>
</g>

<g id="row-28" transform="translate(31,4012)">
<use href="#grid"/>
<text class="mn" y="-7"><tspan x="1">109</tspan><tspan x="241">110</tspan><tspan x="481">111</tspan><tspan x="721">112</tspan></text>
<text class="tp" y="-20"><tspan x="0">♩=144</tspan><tspan x="240">♩=144</tspan><tspan x="600">♩=148</tspan><tspan x="720">♩=146</tspan></text>
<text class="s1" y="77"><tspan x="239">178</tspan><tspan x="479">206</tspan><tspan x="719">178</tspan><tspan x="959">206</tspan></text>
<text class="s2" y="90"><tspan x="239">152039</tspan><tspan x="479">154475</tspan><tspan x="719">155543</tspan><tspan x="959">156779</tspan></text>
<text class="s3" y="103"><tspan x="239">0.00%</tspan><tspan x="479">0.00%</tspan><tspan x="719">0.00%</tspan><tspan x="959">0.00%</tspan></text>
<path class="lY" d="M0 30H14M930 30H960"/><path class="lB" d="M450 45H494"/>
<use href="#Y" x="30"/><use href="#Y" x="60"/><use href="#R" x="90"/><use href="#Y" x="120"/><use href="#R" x="150"/><use href="#Y" x="180"/><use href="#B" x="210"/><use href="#B" x="240"/><use href="#B" x="270"/><use href="#B" x="300"/><use href="#B" x="330"/><use href="#B" x="360"/><use href="#R" x="390"/><use href="#Y" x="420"/><use href="#B" x="450"/><use href="#B" x="510"/><use href="#B" x="540"/><use href="#Y" x="570"/><use href="#Y" x="600"/><use href="#R" x="630"/><use href="#B" x="660"/><use href="#R" x="690"/><use href="#R" x="720"/><use href="#R" x="750"/><use href="#R" x="780"/><use href="#R" x="810"/><use href="#R" x="840"/><use href="#G" x="870"/><use href="#R" x="900"/><use href="#Y" x="930"/>
<rect class="ob" width="434" height="60"/><rect class="op" x="434" width="16" height="60"/>
</g>

<g id="row-29" transform="translate(31,4153)">
<use href="#grid"/>
<text class="mn" y="-7"><tspan x="1">113</tspan><tspan x="241">114</tspan><tspan x="481">115</tspan><tspan x="721">116</tspan></text>
<text class="tp" y="-20"><tspan x="0">♩=143</tspan><tspan x="240">♩=144</tspan><tspan x="720">♩=146</tspan></text>
<text class="s1" y="77"><tspan x="239">184</tspan><tspan x="479">178</tspan><tspan x="719">200</tspan><tspan x="959">190</tspan></text>
<text class="s2" y="90"><tspan x="239">157883</tspan><tspan x="479">158951</tspan><tspan x="719">160151</tspan><tspan x="959">161291</tspan></text>
<text class="s3" y="103"><tspan x="239">0.00%</tspan><tspan x="479">0.00%</tspan><tspan x="719">25.00%</tspan><tspan x="959">25.00%</tspan></text>
<path class="lY" d="M0 30H14M930 30H960"/><path class="lB" d="M210 45H254"/><path class="lR" d="M720 15H764"/>
<use href="#Y" x="30"/><use href="#B" x="60"/><use href="#G" x="90"/><use href="#R" x="120"/><use href="#R" x="150"/><use href="#Y" x="180"/><use href="#B" x="210"/><use href="#B" x="270"/><use href="#B" x="300"/><use href="#B" x="330"/><use href="#B" x="360"/><use href="#B" x="390"/><use href="#B" x="420"/><use href="#Y" x="450"/><use href="#sb" x="480"/><use href="#sb" x="510"/><use href="#sb" x="540"/><use href="#sr" x="570"/><use href="#sy" x="600"/><use href="#sy" x="630"/><use href="#sb" x="660"/><use href="#sr" x="690"/><use href="#R" x="720"/><use href="#R" x="780"/><use href="#R" x="810"/><use href="#R" x="840"/><use href="#G" x="870"/><use href="#R" x="900"/><use href="#Y" x="930"/>
<rect class="og" x="480" width="210" height="60"/>
</g>

<g id="row-30" transform="translate(31,4294)">
<use href="#grid"/>
<text class="mn" y="-7"><tspan x="1">117</tspan><tspan x="241">118</tspan><tspan x="481">119</tspan><tspan x="721">120</tspan></text>
<text class="tp" y="-20"><tspan x="720">♩=145</tspan></text>
<text class="s1" y="77"><tspan x="239">178</tspan><tspan x="479">190</tspan><tspan x="719">178</tspan><tspan x="959">70</tspan></text>
<text class="s2" y="90"><tspan x="239">162359</tspan><tspan x="479">163499</tspan><tspan x="719">164567</tspan><tspan x="959">164987</tspan></text>
<text class="s3" y="103"><tspan x="239">25.00%</tspan><tspan x="479">25.00%</tspan><tspan x="719">25.00%</tspan><tspan x="959">25.00%</tspan></text>
<path class="lY" d="M0 30H14"/><path class="lB" d="M300 45H345M450 45H494"/><path class="lR" d="M720 15H944"/>
<use href="#Y" x="30"/><use href="#Y" x="60"/><use href="#Y" x="90"/><use href="#Y" x="120"/><use href="#Y" x="150"/><use href="#Y" x="180"/><use href="#B" x="210"/><use href="#B" x="240"/><use href="#B" x="270"/><use href="#B" x="300"/><use href="#B" x="360"/><use href="#R" x="390"/><use href="#Y" x="420"/><use href="#B" x="450"/><use href="#B" x="510"/><use href="#B" x="540"/><use href="#Y" x="570"/><use href="#B" x="600"/><use href="#Y" x="630"/><use href="#R" x="660"/><use href="#G" x="690"/><use href="#R" x="720"/>
</g>

<g id="row-31" transform="translate(31,4435)">
<use href="#grid"/>
<text class="mn" y="-7"><tspan x="1">121</tspan><tspan x="241">122</tspan><tspan x="481">123</tspan><tspan x="721">124</tspan></text>
<text class="tp" y="-20"><tspan x="0">♩=142</tspan><tspan x="240">♩=142</tspan><tspan x="480">♩=141</tspan><tspan x="720">♩=142</tspan><tspan x="840">♩=146</tspan></text>
<text class="s1" y="77"><tspan x="239">70</tspan><tspan x="479">73</tspan><tspan x="719">45</tspan><tspan x="959">73</tspan></text>
<text class="s2" y="90"><tspan x="239">165407</tspan><tspan x="479">165845</tspan><tspan x="719">166115</tspan><tspan x="959">166553</tspan></text>
<text class="s3" y="103"><tspan x="239">25.00%</tspan><tspan x="479">25.00%</tspan><tspan x="719">25.00%</tspan><tspan x="959">25.00%</tspan></text>
<path class="lG" d="M0 0H225"/><path class="lY" d="M240 30H705"/><path class="lO" d="M720 60H960"/>
<use href="#G" x="0"/><use href="#Y" x="240"/><use href="#O" x="720"/>
</g>

<g id="row-32" transform="translate(31,4576)">
<use href="#grid"/>
<text class="mn" y="-7"><tspan x="1">125</tspan><tspan x="241">126</tspan><tspan x="481">127</tspan><tspan x="721">128</tspan></text>
<text class="tp" y="-20"><tspan x="240">♩=146</tspan><tspan x="480">♩=145</tspan></text>
<text class="s1" y="77"><tspan x="239">48</tspan><tspan x="479">48</tspan><tspan x="719">45</tspan><tspan x="959">73</tspan></text>
<text class="s2" y="90"><tspan x="239">166841</tspan><tspan x="479">167129</tspan><tspan x="719">167399</tspan><tspan x="959">167837</tspan></text>
<text class="s3" y="103"><tspan x="239">25.00%</tspan><tspan x="479">25.00%</tspan><tspan x="719">25.00%</tspan><tspan x="959">25.00%</tspan></text>
<path class="lO" d="M0 60H705"/><path class="lR" d="M720 15H960"/>
<use href="#R" x="720"/>
</g>

<g id="row-33" transform="translate(31,4717)">
<use href="#grid"/>
<text class="mn" y="-7"><tspan x="1">129</tspan><tspan x="241">130</tspan><tspan x="481">131</tspan><tspan x="721">132</tspan></text>
<text class="tp" y="-20"><tspan x="0">♩=145</tspan><tspan x="240">♩=146</tspan><tspan x="720">♩=147</tspan></text>
<text class="s1" y="77"><tspan x="239">48</tspan><tspan x="479">48</tspan><tspan x="719">18</tspan><tspan x="959">0</tspan></text>
<text class="s2" y="90"><tspan x="239">168125</tspan><tspan x="479">168413</tspan><tspan x="719">168521</tspan><tspan x="959">168521</tspan></text>
<text class="s3" y="103"><tspan x="239">25.00%</tspan><tspan x="479">25.00%</tspan><tspan x="719">25.00%</tspan><tspan x="959">25.00%</tspan></text>
<path class="lR" d="M0 15H570"/>
</g>

<g id="row-34" transform="translate(31,4858)">
<use href="#grid"/>
<text class="mn" y="-7"><tspan x="1">133</tspan><tspan x="241">134</tspan><tspan x="481">135</tspan><tspan x="721">136</tspan></text>
<text class="tp" y="-20"><tspan x="240">♩=147</tspan><tspan x="480">♩=146</tspan><tspan x="720">♩=146</tspan></text>
<text class="s1" y="77"><tspan x="239">0</tspan><tspan x="479">0</tspan><tspan x="719">0</tspan><tspan x="959">0</tspan></text>
<text class="s2" y="90"><tspan x="239">168521</tspan><tspan x="479">168521</tspan><tspan x="719">168521</tspan><tspan x="959">168521</tspan></text>
<text class="s3" y="103"><tspan x="239">25.00%</tspan><tspan x="479">25.00%</tspan><tspan x="719">25.00%</tspan><tspan x="959">25.00%</tspan></text>
</g>

<g id="row-35" transform="translate(31,4999)">
<use href="#grid"/>
<text class="mn" y="-7"><tspan x="1">137</tspan><tspan x="241">138</tspan><tspan x="481">139</tspan><tspan x="721">140</tspan></text>
<text class="tp" y="-20"><tspan x="480">♩=147</tspan><tspan x="600">♩=150</tspan><tspan x="660">♩=153</tspan><tspan x="720">♩=147</tspan></text>
<text class="s1" y="77"><tspan x="239">0</tspan><tspan x="479">0</tspan><tspan x="719">165</tspan><tspan x="959">153</tspan></text>
<text class="s2" y="90"><tspan x="239">168521</tspan><tspan x="479">168521</tspan><tspan x="719">169511</tspan><tspan x="959">170429</tspan></text>
<text class="s3" y="103"><tspan x="239">25.00%</tspan><tspan x="479">25.00%</tspan><tspan x="719">25.00%</tspan><tspan x="959">25.00%</tspan></text>
<path class="lY" d="M570 30H615"/><path class="lB" d="M690 45H734"/>
<use href="#G" x="510"/><use href="#R" x="540"/><use href="#Y" x="570"/><use href="#R" x="630"/><use href="#Y" x="660"/><use href="#B" x="690"/><use href="#B" x="750"/><use href="#B" x="780"/><use href="#Y" x="810"/><use href="#B" x="840"/><use href="#G" x="900"/><use href="#G" x="930"/>
</g>

<g id="row-36" transform="translate(31,5140)">
<use href="#grid"/>
<text class="mn" y="-7"><tspan x="1">141</tspan><tspan x="241">142</tspan><tspan x="481">143</tspan><tspan x="721">144</tspan></text>
<text class="s1" y="77"><tspan x="239">206</tspan><tspan x="479">153</tspan><tspan x="719">206</tspan><tspan x="959">153</tspan></text>
<text class="s2" y="90"><tspan x="239">171665</tspan><tspan x="479">172583</tspan><tspan x="719">173819</tspan><tspan x="959">174737</tspan></text>
<text class="s3" y="103"><tspan x="239">25.00%</tspan><tspan x="479">25.00%</tspan><tspan x="719">25.00%</tspan><tspan x="959">25.00%</tspan></text>
<path class="lB" d="M210 45H254"/><path class="lY" d="M690 30H734"/>
<use href="#G" x="0"/><use href="#R" x="30"/><use href="#G" x="60"/><use href="#G" x="90"/><use href="#R" x="120"/><use href="#G" x="150"/><use href="#G" x="180"/><use href="#B" x="210"/><use href="#B" x="270"/><use href="#Y" x="300"/><use href="#Y" x="330"/><use href="#B" x="360"/><use href="#Y" x="420"/><use href="#Y" x="450"/><use href="#Y" x="480"/><use href="#B" x="510"/><use href="#Y" x="540"/><use href="#Y" x="570"/><use href="#B" x="600"/><use href="#G" x="630"/><use href="#R" x="660"/><use href="#Y" x="690"/><use href="#Y" x="750"/><use href="#R" x="780"/><use href="#R" x="810"/><use href="#Y" x="840"/><use href="#R" x="900"/><use href="#R" x="930"/>
</g>

<g id="row-37" transform="translate(31,5281)">
<rect class="bk" x="30" y="-10" width="224" height="80"/>
<use href="#grid"/>
<text class="mn" y="-7"><tspan x="1">145</tspan><tspan x="241">146</tspan><tspan x="481">147</tspan><tspan x="721">148</tspan></text>
<text class="tp" y="-20"><tspan x="480">♩=148</tspan><tspan x="720">♩=147</tspan></text>
<text class="s1" y="77"><tspan x="239">181</tspan><tspan x="479">153</tspan><tspan x="719">184</tspan><tspan x="959">200</tspan></text>
<text class="s2" y="90"><tspan x="239">175823</tspan><tspan x="479">176741</tspan><tspan x="719">177845</tspan><tspan x="959">179045</tspan></text>
<text class="s3" y="103"><tspan x="239">51.70%</tspan><tspan x="479">52.55%</tspan><tspan x="719">52.55%</tspan><tspan x="959">52.55%</tspan></text>
<path class="lB" d="M210 45H254"/><path class="lY" d="M570 30H615"/>
<use href="#sr" x="30"/><use href="#sg" x="60"/><use href="#sg" x="90"/><use href="#sr" x="120"/><use href="#sg" x="150"/><use href="#sy" x="180"/><use href="#sb" x="210"/><use href="#B" x="270"/><use href="#Y" x="300"/><use href="#Y" x="330"/><use href="#B" x="360"/><use href="#Y" x="420"/><use href="#Y" x="450"/><use href="#Y" x="480"/><use href="#G" x="510"/><use href="#R" x="540"/><use href="#Y" x="570"/><use href="#Y" x="630"/><use href="#B" x="660"/><use href="#G" x="690"/><use href="#R" x="720"/><use href="#R" x="750"/><use href="#R" x="780"/><use href="#R" x="810"/><use href="#R" x="840"/><use href="#R" x="870"/><use href="#R" x="900"/><use href="#Y" x="930"/>
<rect class="og" x="30" width="224" height="60"/>
</g>

<g id="row-38" transform="translate(31,5422)">
<use href="#grid"/>
<text class="mn" y="-7"><tspan x="1">149</tspan><tspan x="241">150</tspan><tspan x="481">151</tspan><tspan x="721">152</tspan></text>
<text class="tp" y="-20"><tspan x="0">♩=148</tspan><tspan x="720">♩=147</tspan></text>
<text class="s1" y="77"><tspan x="239">206</tspan><tspan x="479">184</tspan><tspan x="719">178</tspan><tspan x="959">206</tspan></text>
<text class="s2" y="90"><tspan x="239">180281</tspan><tspan x="479">181385</tspan><tspan x="719">182453</tspan><tspan x="959">183689</tspan></text>
<text class="s3" y="103"><tspan x="239">52.55%</tspan><tspan x="479">52.55%</tspan><tspan x="719">52.55%</tspan><tspan x="959">52.55%</tspan></text>
<path class="lB" d="M210 45H254M450 45H494"/><path class="lY" d="M930 30H960"/>
<use href="#Y" x="0"/><use href="#Y" x="30"/><use href="#Y" x="60"/><use href="#Y" x="90"/><use href="#Y" x="120"/><use href="#Y" x="150"/><use href="#Y" x="180"/><use href="#B" x="210"/><use href="#B" x="270"/><use href="#B" x="300"/><use href="#Y" x="330"/><use href="#B" x="360"/><use href="#G" x="390"/><use href="#R" x="420"/><use href="#B" x="450"/><use href="#B" x="510"/><use href="#B" x="540"/><use href="#Y" x="570"/><use href="#B" x="600"/><use href="#Y" x="630"/><use href="#Y" x="660"/><use href="#R" x="690"/><use href="#R" x="720"/><use href="#R" x="750"/><use href="#R" x="780"/><use href="#R" x="810"/><use href="#R" x="840"/><use href="#G" x="870"/><use href="#R" x="900"/><use href="#Y" x="930"/>
</g>

<g id="row-39" transform="translate(31,5563)">
<use href="#grid"/>
<text class="mn" y="-7"><tspan x="1">153</tspan><tspan x="241">154</tspan><tspan x="481">155</tspan><tspan x="721">156</tspan></text>
<text class="tp" y="-20"><tspan x="480">♩=150</tspan><tspan x="600">♩=152</tspan><tspan x="720">♩=146</tspan></text>
<text class="s1" y="77"><tspan x="239">184</tspan><tspan x="479">184</tspan><tspan x="719">168</tspan><tspan x="959">215</tspan></text>
<text class="s2" y="90"><tspan x="239">185729</tspan><tspan x="479">187937</tspan><tspan x="719">189953</tspan><tspan x="959">192533</tspan></text>
<text class="s3" y="103"><tspan x="239">43.84%</tspan><tspan x="479">31.34%</tspan><tspan x="719">46.09%</tspan><tspan x="959">36.44%</tspan></text>
<path class="lY" d="M0 30H14M930 30H960"/><path class="lB" d="M210 45H254M450 45H494M570 45H615M930 45H960"/><path class="lO" d="M690 60H734"/>
<use href="#G" x="30"/><use href="#R" x="60"/><use href="#G" x="90"/><use href="#R" x="120"/><use href="#Y" x="150"/><use href="#B" x="180"/><use href="#B" x="210"/><use href="#B" x="270"/><use href="#B" x="300"/><use href="#B" x="330"/><use href="#B" x="360"/><use href="#R" x="390"/><use href="#Y" x="420"/><use href="#B" x="450"/><use href="#sg" x="510"/><use href="#sy" x="540"/><use href="#sb" x="570"/><use href="#sy" x="630"/><use href="#sb" x="660"/><use href="#so" x="690"/><use href="#R" x="750"/><use href="#R" x="780"/><use href="#R" x="810"/><use href="#R" x="840"/><use href="#Y" x="870"/><use href="#R" x="900"/><use href="#Y" x="930"/><use href="#B" x="930"/>
<rect class="og" x="510" width="224" height="60"/><rect class="op" x="60" width="12" height="60"/><rect class="ob" x="72" width="888" height="60"/>
</g>

<g id="row-40" transform="translate(31,5704)">
<use href="#grid"/>
<text class="mn" y="-7"><tspan x="1">157</tspan><tspan x="241">158</tspan><tspan x="481">159</tspan><tspan x="721">160</tspan></text>
<text class="tp" y="-20"><tspan x="0">♩=147</tspan><tspan x="240">♩=148</tspan><tspan x="720">♩=147</tspan></text>
<text class="s1" y="77"><tspan x="239">212</tspan><tspan x="479">184</tspan><tspan x="719">184</tspan><tspan x="959">215</tspan></text>
<text class="s2" y="90"><tspan x="239">195077</tspan><tspan x="479">197285</tspan><tspan x="719">199493</tspan><tspan x="959">202073</tspan></text>
<text class="s3" y="103"><tspan x="239">23.94%</tspan><tspan x="479">11.44%</tspan><tspan x="719">0.00%</tspan><tspan x="959">0.00%</tspan></text>
<path class="lY" d="M0 30H14M930 30H960"/><path class="lB" d="M0 45H14M210 45H254M450 45H494M930 45H960"/><path class="lO" d="M690 60H734"/>
<use href="#Y" x="30"/><use href="#Y" x="60"/><use href="#Y" x="90"/><use href="#R" x="120"/><use href="#Y" x="150"/><use href="#B" x="150"/><use href="#Y" x="180"/><use href="#B" x="210"/><use href="#B" x="270"/><use href="#B" x="300"/><use href="#B" x="330"/><use href="#B" x="360"/><use href="#R" x="390"/><use href="#Y" x="420"/><use href="#B" x="450"/><use href="#B" x="510"/><use href="#B" x="540"/><use href="#B" x="570"/><use href="#B" x="600"/><use href="#Y" x="630"/><use href="#B" x="660"/><use href="#O" x="690"/><use href="#R" x="750"/><use href="#R" x="780"/><use href="#R" x="810"/><use href="#R" x="840"/><use href="#Y" x="870"/><use href="#R" x="900"/><use href="#Y" x="930"/><use href="#B" x="930"/>
<rect class="ob" width="960" height="60"/>
</g>

<g id="row-41" transform="translate(31,5845)">
<use href="#grid"/>
<text class="mn" y="-7"><tspan x="1">161</tspan><tspan x="241">162</tspan><tspan x="481">163</tspan><tspan x="721">164</tspan></text>
<text class="tp" y="-20"><tspan x="0">♩=147</tspan><tspan x="240">♩=148</tspan></text>
<text class="s1" y="77"><tspan x="239">212</tspan><tspan x="479">184</tspan><tspan x="719">162</tspan><tspan x="959">206</tspan></text>
<text class="s2" y="90"><tspan x="239">204593</tspan><tspan x="479">205697</tspan><tspan x="719">206669</tspan><tspan x="959">207905</tspan></text>
<text class="s3" y="103"><tspan x="239">0.00%</tspan><tspan x="479">0.00%</tspan><tspan x="719">0.00%</tspan><tspan x="959">0.00%</tspan></text>
<path class="lY" d="M0 30H14M570 30H615"/><path class="lB" d="M0 45H14M210 45H254M450 45H494"/><path class="lG" d="M930 0H960"/>
<use href="#Y" x="30"/><use href="#Y" x="60"/><use href="#Y" x="90"/><use href="#R" x="120"/><use href="#Y" x="150"/><use href="#B" x="150"/><use href="#Y" x="180"/><use href="#B" x="210"/><use href="#B" x="270"/><use href="#B" x="300"/><use href="#B" x="330"/><use href="#B" x="360"/><use href="#R" x="390"/><use href="#Y" x="420"/><use href="#B" x="450"/><use href="#G" x="510"/><use href="#R" x="540"/><use href="#Y" x="570"/><use href="#G" x="630"/><use href="#Y" x="660"/><use href="#R" x="690"/><use href="#R" x="720"/><use href="#R" x="750"/><use href="#R" x="780"/><use href="#R" x="810"/><use href="#R" x="840"/><use href="#R" x="870"/><use href="#G" x="900"/><use href="#G" x="930"/>
<rect class="ob" width="219" height="60"/>
</g>

<g id="row-42" transform="translate(31,5986)">
<rect class="bk" x="60" y="-10" width="270" height="80"/>
<use href="#grid"/>
<text class="mn" y="-7"><tspan x="1">165</tspan><tspan x="241">166</tspan><tspan x="481">167</tspan><tspan x="721">168</tspan></text>
<text class="tp" y="-20"><tspan x="480">♩=152</tspan><tspan x="720">♩=146</tspan></text>
<text class="s1" y="77"><tspan x="239">184</tspan><tspan x="479">184</tspan><tspan x="719">178</tspan><tspan x="959">206</tspan></text>
<text class="s2" y="90"><tspan x="239">209009</tspan><tspan x="479">210113</tspan><tspan x="719">211931</tspan><tspan x="959">214403</tspan></text>
<text class="s3" y="103"><tspan x="239">1.70%</tspan><tspan x="479">27.55%</tspan><tspan x="719">20.29%</tspan><tspan x="959">7.79%</tspan></text>
<path class="lG" d="M0 0H14"/><path class="lB" d="M210 45H254M450 45H494"/><path class="lY" d="M930 30H960"/>
<use href="#G" x="30"/><use href="#sg" x="60"/><use href="#sr" x="90"/><use href="#sg" x="120"/><use href="#sr" x="150"/><use href="#sy" x="180"/><use href="#sb" x="210"/><use href="#sb" x="270"/><use href="#sb" x="300"/><use href="#sb" x="330"/><use href="#B" x="360"/><use href="#Y" x="390"/><use href="#O" x="420"/><use href="#B" x="450"/><use href="#B" x="510"/><use href="#B" x="540"/><use href="#Y" x="570"/><use href="#B" x="600"/><use href="#Y" x="630"/><use href="#R" x="660"/><use href="#G" x="690"/><use href="#R" x="720"/><use href="#R" x="750"/><use href="#R" x="780"/><use href="#G" x="810"/><use href="#R" x="840"/><use href="#G" x="870"/><use href="#R" x="900"/><use href="#Y" x="930"/>
<rect class="og" x="60" width="270" height="60"/><rect class="op" x="570" width="10" height="60"/><rect class="ob" x="580" width="380" height="60"/>
</g>

<g id="row-43" transform="translate(31,6127)">
<use href="#grid"/>
<text class="mn" y="-7"><tspan x="1">169</tspan><tspan x="241">170</tspan><tspan x="481">171</tspan><tspan x="721">172</tspan></text>
<text class="tp" y="-20"><tspan x="0">♩=147</tspan><tspan x="240">♩=149</tspan><tspan x="480">♩=151</tspan><tspan x="720">♩=145</tspan></text>
<text class="s1" y="77"><tspan x="239">184</tspan><tspan x="479">184</tspan><tspan x="719">162</tspan><tspan x="959">250</tspan></text>
<text class="s2" y="90"><tspan x="239">216611</tspan><tspan x="479">218819</tspan><tspan x="719">220763</tspan><tspan x="959">223763</tspan></text>
<text class="s3" y="103"><tspan x="239">0.00%</tspan><tspan x="479">0.00%</tspan><tspan x="719">23.44%</tspan><tspan x="959">10.94%</tspan></text>
<path class="lY" d="M0 30H14"/><path class="lB" d="M210 45H254M450 45H494M570 45H615"/>
<use href="#Y" x="30"/><use href="#B" x="60"/><use href="#G" x="90"/><use href="#R" x="120"/><use href="#R" x="150"/><use href="#Y" x="180"/><use href="#B" x="210"/><use href="#B" x="270"/><use href="#B" x="300"/><use href="#B" x="330"/><use href="#B" x="360"/><use href="#R" x="390"/><use href="#Y" x="420"/><use href="#B" x="450"/><use href="#sg" x="510"/><use href="#sy" x="540"/><use href="#sb" x="570"/><use href="#sy" x="630"/><use href="#sb" x="660"/><use href="#so" x="690"/><use href="#O" x="720"/><use href="#B" x="750"/><use href="#O" x="757"/><use href="#O" x="780"/><use href="#O" x="810"/><use href="#B" x="840"/><use href="#O" x="847"/><use href="#O" x="870"/><use href="#O" x="900"/><use href="#Y" x="930"/>
<rect class="og" x="510" width="180" height="60"/><rect class="ob" width="960" height="60"/>
</g>

<g id="row-44" transform="translate(31,6268)">
<use href="#grid"/>
<text class="mn" y="-7"><tspan x="1">173</tspan><tspan x="241">174</tspan><tspan x="481">175</tspan><tspan x="721">176</tspan></text>
<text class="tp" y="-20"><tspan x="0">♩=146</tspan><tspan x="240">♩=145</tspan><tspan x="480">♩=147</tspan></text>
<text class="s1" y="77"><tspan x="239">231</tspan><tspan x="479">184</tspan><tspan x="719">178</tspan><tspan x="959">190</tspan></text>
<text class="s2" y="90"><tspan x="239">226499</tspan><tspan x="479">227603</tspan><tspan x="719">228671</tspan><tspan x="959">229811</tspan></text>
<text class="s3" y="103"><tspan x="239">0.00%</tspan><tspan x="479">0.00%</tspan><tspan x="719">0.00%</tspan><tspan x="959">0.00%</tspan></text>
<path class="lB" d="M210 45H254M450 45H494"/><path class="lR" d="M720 15H764"/><path class="lY" d="M930 30H960"/>
<use href="#B" x="0"/><use href="#Y" x="30"/><use href="#B" x="37"/><use href="#B" x="60"/><use href="#B" x="90"/><use href="#B" x="120"/><use href="#O" x="150"/><use href="#Y" x="180"/><use href="#B" x="210"/><use href="#B" x="270"/><use href="#B" x="300"/><use href="#B" x="330"/><use href="#B" x="360"/><use href="#R" x="390"/><use href="#Y" x="420"/><use href="#B" x="450"/><use href="#B" x="510"/><use href="#B" x="540"/><use href="#Y" x="570"/><use href="#B" x="600"/><use href="#Y" x="630"/><use href="#R" x="660"/><use href="#G" x="690"/><use href="#R" x="720"/><use href="#R" x="780"/><use href="#R" x="810"/><use href="#R" x="840"/><use href="#G" x="870"/><use href="#R" x="900"/><use href="#Y" x="930"/>
<rect class="ob" width="199" height="60"/><rect class="op" x="199" width="11" height="60"/>
</g>

<g id="row-45" transform="translate(31,6409)">
<use href="#grid"/>
<text class="mn" y="-7"><tspan x="1">177</tspan><tspan x="241">178</tspan><tspan x="481">179</tspan><tspan x="721">180</tspan></text>
<text class="tp" y="-20"><tspan x="0">♩=150</tspan><tspan x="480">♩=152</tspan><tspan x="720">♩=154</tspan></text>
<text class="s1" y="77"><tspan x="239">178</tspan><tspan x="479">117</tspan><tspan x="719">130</tspan><tspan x="959">117</tspan></text>
<text class="s2" y="90"><tspan x="239">230879</tspan><tspan x="479">231581</tspan><tspan x="719">232361</tspan><tspan x="959">233063</tspan></text>
<text class="s3" y="103"><tspan x="239">0.00%</tspan><tspan x="479">0.00%</tspan><tspan x="719">0.00%</tspan><tspan x="959">0.00%</tspan></text>
<path class="lY" d="M0 30H14"/><path class="lB" d="M240 45H315M330 45H405M420 45H494M510 45H554M720 45H795M810 45H884M900 45H960"/><path class="lG" d="M600 0H645M660 0H705"/>
<use href="#Y" x="30"/><use href="#B" x="60"/><use href="#G" x="90"/><use href="#R" x="120"/><use href="#R" x="150"/><use href="#Y" x="180"/><use href="#R" x="210"/><use href="#B" x="240"/><use href="#B" x="330"/><use href="#B" x="420"/><use href="#B" x="510"/><use href="#B" x="570"/><use href="#G" x="600"/><use href="#G" x="660"/><use href="#B" x="720"/><use href="#B" x="810"/><use href="#B" x="900"/>
</g>

<g id="row-46" transform="translate(31,6550)">
<use href="#grid3"/>
<text class="ts" x="484" y="28">5</text><text class="ts" x="484" y="58">4</text>
<text class="mn" y="-7"><tspan x="1">181</tspan><tspan x="241">182</tspan><tspan x="481">183</tspan></text>
<text class="tp" y="-20"><tspan x="0">♩=149</tspan><tspan x="240">♩=147</tspan><tspan x="360">♩=128</tspan><tspan x="420">♩=120</tspan><tspan x="480">♩=118</tspan><tspan x="540">♩=112</tspan><tspan x="600">♩=94</tspan><tspan x="660">♩=88</tspan><tspan x="720">♩=74</tspan></text>
<text class="s1" y="77"><tspan x="239">130</tspan><tspan x="479">157</tspan><tspan x="779">57</tspan></text>
<text class="s2" y="90"><tspan x="239">233843</tspan><tspan x="479">234785</tspan><tspan x="779">235127</tspan></text>
<text class="s3" y="103"><tspan x="239">0.00%</tspan><tspan x="479">0.00%</tspan><tspan x="779">0.00%</tspan></text>
<path class="lB" d="M0 45H14M30 45H74M240 45H292M330 45H374M420 45H765"/><path class="lG" d="M120 0H165M180 0H225"/>
<use href="#B" x="30"/><use href="#B" x="90"/><use href="#G" x="120"/><use href="#G" x="180"/><use href="#B" x="240"/><use href="#R" x="300"/><use href="#B" x="330"/><use href="#R" x="390"/><use href="#B" x="420"/>
</g>

<g id="row-47" transform="translate(31,6691)">
<rect class="br" x="240" y="-10" width="659" height="82"/>
<use href="#grid"/>
<text class="ts" x="4" y="28">4</text><text class="ts" x="4" y="58">4</text>
<text class="mn" y="-7"><tspan x="1">184</tspan><tspan x="241">185</tspan><tspan x="481">186</tspan><tspan x="721">187</tspan></text>
<text class="tp" y="-20"><tspan x="0">♩=81</tspan><tspan x="120">♩=76</tspan><tspan x="240">♩=75</tspan><tspan x="480">♩=77</tspan></text>
<text class="s1" y="77"><tspan x="239">92</tspan><tspan x="479">0</tspan><tspan x="719">0</tspan><tspan x="959">0</tspan></text>
<text class="s2" y="90"><tspan x="239">235679</tspan><tspan x="479">235679</tspan><tspan x="719">235679</tspan><tspan x="959">235679</tspan></text>
<text class="s3" y="103"><tspan x="239">0.00%</tspan><tspan x="479">0.00%</tspan><tspan x="719">0.00%</tspan><tspan x="959">0.00%</tspan></text>
<path class="lG" d="M0 0H104M120 0H225"/>
<use href="#G" x="0"/><use href="#G" x="120"/><use href="#R" x="240"/><use href="#R" x="300"/><use href="#R" x="315"/><use href="#R" x="330"/><use href="#R" x="345"/><use href="#R" x="360"/><use href="#R" x="375"/><use href="#Y" x="390"/><use href="#Y" x="405"/><use href="#B" x="420"/><use href="#B" x="435"/><use href="#B" x="450"/><use href="#B" x="465"/><use href="#B" x="480"/>
<use href="#O" x="495"/><use href="#O" x="510"/><use href="#O" x="525"/><use href="#O" x="540"/><use href="#O" x="555"/><use href="#O" x="570"/><use href="#O" x="585"/><use href="#O" x="600"/><use href="#O" x="615"/><use href="#O" x="630"/><use href="#O" x="645"/><use href="#O" x="660"/><use href="#O" x="675"/><use href="#O" x="690"/><use href="#O" x="705"/><use href="#O" x="720"/><use href="#O" x="735"/><use href="#O" x="750"/><use href="#O" x="765"/><use href="#O" x="795"/><use href="#O" x="810"/><use href="#O" x="825"/><use href="#O" x="840"/><use href="#O" x="855"/><use href="#O" x="870"/><use href="#B" x="855"/><use href="#B" x="870"/>
</g>

<g id="row-48" transform="translate(31,6832)">
<use href="#grid1"/>
<text class="mn" y="-7"><tspan x="1">188</tspan></text>
<text class="s1" y="77"><tspan x="239">0</tspan></text>
<text class="s2" y="90"><tspan x="239">240752</tspan></text>
<text class="s3" y="103"><tspan x="239">0.00%</tspan></text>
<use href="#R" x="0"/>
</g>
</g>
</svg>
